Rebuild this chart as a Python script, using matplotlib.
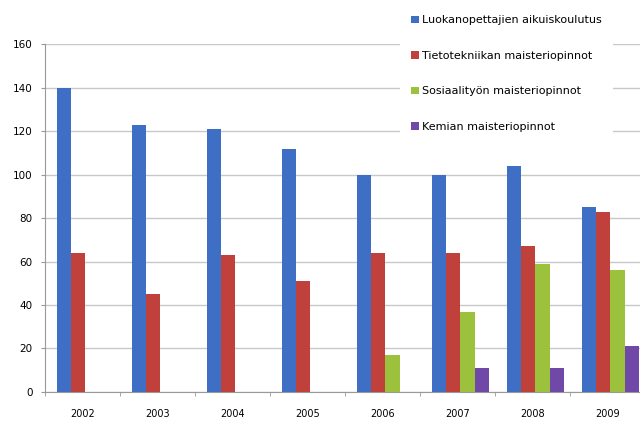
import numpy as np
from matplotlib import pyplot as plt
from matplotlib.ticker import MultipleLocator

years = ['2002', '2003', '2004', '2005', '2006', '2007', '2008', '2009']
luokanopettajat = [140, 123, 121, 112, 100, 100, 104, 85]
tietotekniikka = [64, 45, 63, 51, 64, 64, 67, 83]
sosiaalityo = [0, 0, 0, 0, 17, 37, 59, 56]
kemia = [0, 0, 0, 0, 0, 11, 11, 21]

series = [
    ('Luokanopettajien aikuiskoulutus', luokanopettajat, '#3f6fc4'),
    ('Tietotekniikan maisteriopinnot', tietotekniikka, '#c0403b'),
    ('Sosiaalityön maisteriopinnot', sosiaalityo, '#9cc13c'),
    ('Kemian maisteriopinnot', kemia, '#7049a8'),
]

fig = plt.figure(figsize=(6.4, 4.21), dpi=100)
ax = fig.add_axes([0.0703, 0.069, 0.9375, 0.826])

x = np.arange(len(years))
w = 0.19
handles = []
for i, (name, vals, col) in enumerate(series):
    # group sits a little right of the category centre, like the original
    b = ax.bar(x - 1.5 * w + i * w + 0.04, vals, width=w, color=col, label=name, zorder=3)
    handles.append(b)

ax.set_xlim(-0.5, len(years) - 0.5)
ax.set_ylim(0, 160)
ax.yaxis.set_major_locator(MultipleLocator(20))
ax.grid(axis='y', color='#c8c8c8', linewidth=1, zorder=0)

ax.set_xticks(x)
ax.set_xticklabels(years, fontsize=7)
ax.set_xticks(np.arange(len(years) + 1) - 0.5, minor=True)
ax.tick_params(axis='x', which='major', length=0, pad=12)
ax.tick_params(axis='x', which='minor', length=3, color='#999999')
ax.tick_params(axis='y', labelsize=7.5, length=3, color='#999999', pad=6)

for s in ['top', 'right']:
    ax.spines[s].set_visible(False)
ax.spines['left'].set_color('#999999')
ax.spines['bottom'].set_color('#999999')

leg = fig.legend(handles=handles, loc='upper left', bbox_to_anchor=(0.625, 0.99),
                 fontsize=8, frameon=True, facecolor='white', edgecolor='none',
                 framealpha=1, handlelength=0.7, handleheight=0.7, handletextpad=0.3,
                 labelspacing=2.3, borderpad=1.0, borderaxespad=0)

plt.savefig('out.png', dpi=100)
